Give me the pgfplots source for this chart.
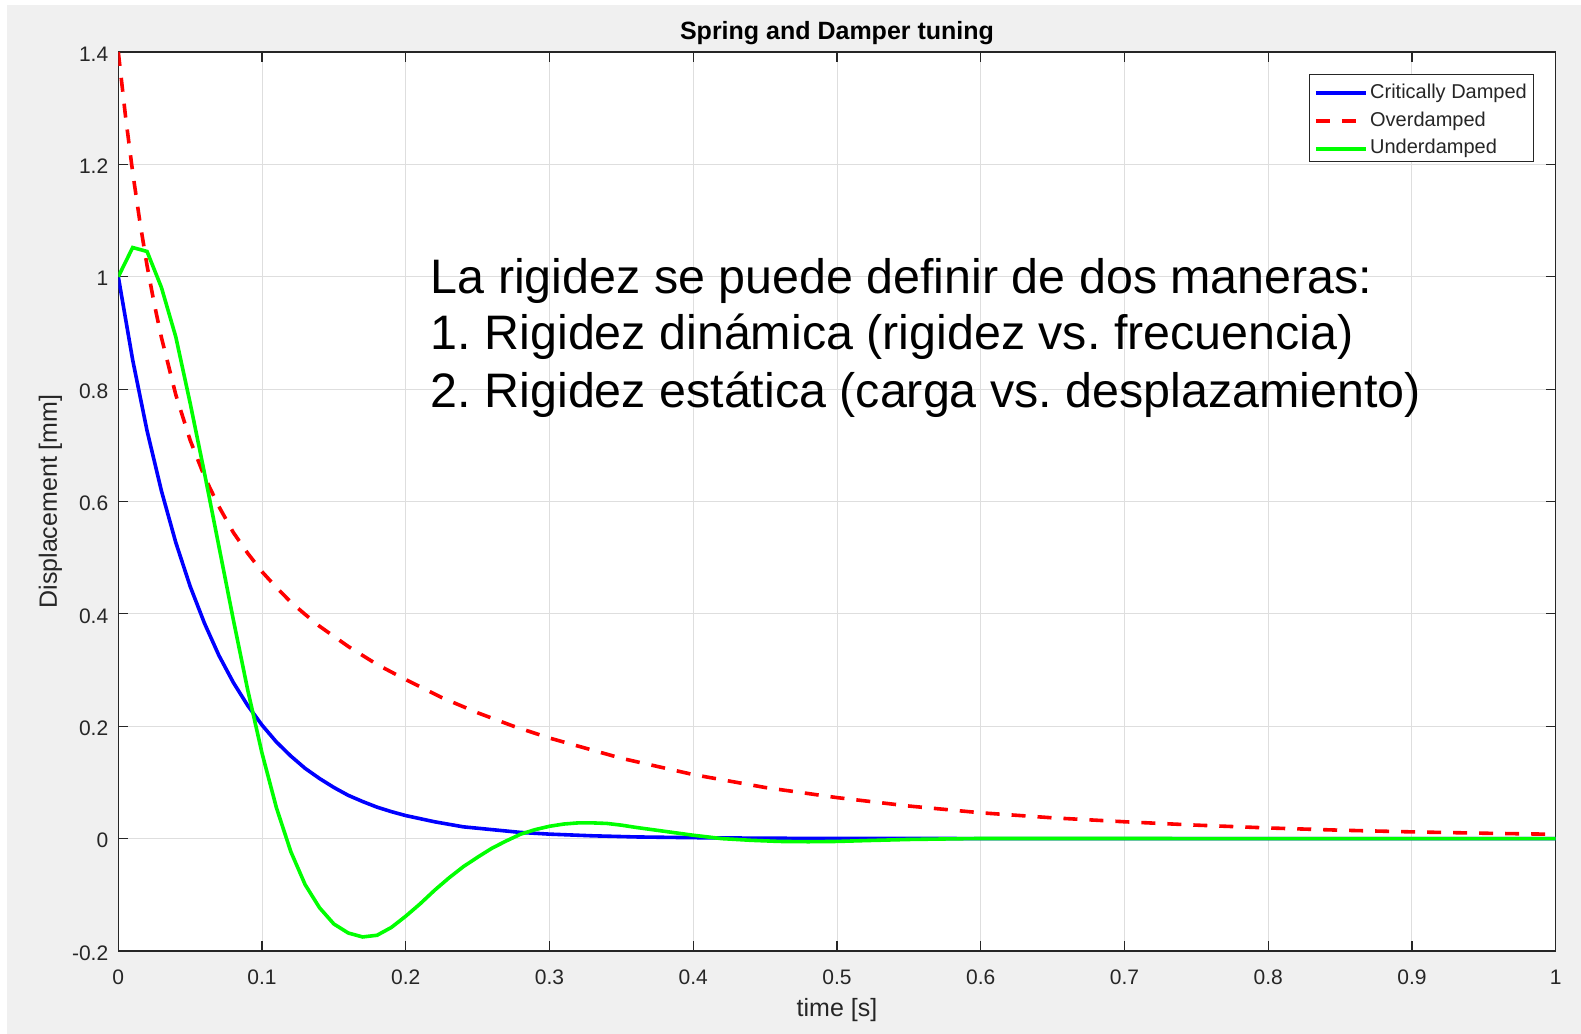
\documentclass[border=0pt]{standalone}
\usepackage{fontspec}
\setmainfont{Liberation Sans}
\usepackage{pgfplots}
\pgfplotsset{compat=1.18}
\definecolor{figgray}{RGB}{240,240,240}
\definecolor{axgray}{RGB}{38,38,38}
\definecolor{gridgray}{RGB}{222,222,222}
\definecolor{mblue}{RGB}{0,0,255}
\definecolor{mred}{RGB}{255,0,0}
\definecolor{mgreen}{RGB}{0,255,0}
\frenchspacing

\begin{document}
\begin{tikzpicture}
% figure background (MATLAB style)
\fill[white] (-59.15pt,-41.5pt) rectangle (731.35pt,475.5pt);
\fill[figgray] (-55.65pt,-41.5pt) rectangle (731.35pt,473pt);
\begin{axis}[
    at={(0pt,0pt)}, anchor=south west,
    scale only axis,
    width=718.7pt, height=449.5pt,
    xmin=0, xmax=1, ymin=-0.2, ymax=1.4,
    xtick={0,0.1,0.2,0.3,0.4,0.5,0.6,0.7,0.8,0.9,1},
    ytick={-0.2,0,0.2,0.4,0.6,0.8,1,1.2,1.4},
    grid=major,
    major grid style={gridgray, line width=0.5pt},
    axis line style={axgray, line width=0.6pt},
    tick style={axgray, line width=0.6pt},
    tick align=inside, major tick length=5pt,
    xtick pos=both, ytick pos=both,
    xticklabel pos=lower, yticklabel pos=left,
    axis background/.style={fill=white},
    /pgf/number format/assume math mode=true,
    tick label style={font=\fontsize{10.5}{12}\selectfont, text=axgray},
    xticklabel style={yshift=-6pt},
    yticklabel style={xshift=-1.5pt, yshift=-1pt},
    title={Spring and Damper tuning},
    title style={font=\bfseries\fontsize{12.5}{14}\selectfont, at={(0.5,1)}, anchor=base, yshift=0pt},
    xlabel={time [s]},
    ylabel={Displacement [mm]},
    label style={font=\fontsize{12.5}{14}\selectfont, text=axgray},
    xlabel style={at={([yshift=-29.5pt]axis description cs:0.5,0)}, anchor=center},
    ylabel style={at={([xshift=-34pt]axis description cs:0,0.5)}, anchor=center},
    legend style={
        at={(0.9849,0.9755)}, anchor=north east,
        draw=axgray, line width=0.5pt, fill=white,
        font=\fontsize{10}{12}\selectfont,
        inner xsep=2.05pt, inner ysep=2.85pt, row sep=3.9pt,
        nodes={inner xsep=1.25pt, inner ysep=0pt, text height=9pt, text depth=1pt, text=axgray},
    },
    legend cell align=left,
    legend image code/.code={\draw[#1] (0pt,-1.5pt) -- (25pt,-1.5pt);},
]

\addplot[mblue, line width=1.8pt] coordinates {
    (0,1) (0.01,0.852) (0.02,0.726) (0.03,0.619) (0.04,0.527) (0.05,0.449)
    (0.06,0.383) (0.07,0.326) (0.08,0.278) (0.09,0.237) (0.1,0.202)
    (0.11,0.172) (0.12,0.147) (0.13,0.125) (0.14,0.107) (0.15,0.091)
    (0.16,0.077) (0.17,0.066) (0.18,0.056) (0.19,0.048) (0.2,0.041)
    (0.22,0.030) (0.24,0.021) (0.26,0.016) (0.28,0.011) (0.3,0.008)
    (0.33,0.005) (0.36,0.003) (0.4,0.0017) (0.45,0.0007) (0.5,0.0003)
    (0.6,0.0001) (0.7,0) (0.8,0) (0.9,0) (1,0)
};

\addplot[mred, line width=1.8pt, dash pattern=on 7pt off 6pt] coordinates {
    (0,1.4) (0.005,1.286) (0.01,1.186) (0.015,1.098) (0.02,1.020) (0.025,0.952)
    (0.03,0.892) (0.04,0.790) (0.05,0.709) (0.06,0.644) (0.07,0.591)
    (0.08,0.545) (0.09,0.508) (0.1,0.475) (0.11,0.447) (0.12,0.421)
    (0.13,0.399) (0.14,0.378) (0.16,0.342) (0.18,0.310) (0.2,0.283)
    (0.225,0.251) (0.25,0.224) (0.275,0.200) (0.3,0.179) (0.35,0.143)
    (0.4,0.114) (0.45,0.091) (0.5,0.073) (0.55,0.058) (0.6,0.046)
    (0.65,0.037) (0.7,0.030) (0.75,0.024) (0.8,0.019) (0.85,0.015)
    (0.9,0.012) (0.95,0.0096) (1,0.0077)
};

\addplot[mgreen, line width=1.8pt] coordinates {
    (0,1) (0.01,1.052) (0.02,1.045) (0.03,0.981) (0.04,0.893) (0.05,0.775)
    (0.06,0.650) (0.07,0.520) (0.08,0.390) (0.09,0.265) (0.1,0.152)
    (0.11,0.055) (0.12,-0.023) (0.13,-0.082) (0.14,-0.123) (0.15,-0.152)
    (0.16,-0.168) (0.17,-0.175) (0.18,-0.172) (0.19,-0.158) (0.2,-0.138)
    (0.21,-0.116) (0.22,-0.092) (0.23,-0.070) (0.24,-0.050) (0.25,-0.033)
    (0.26,-0.017) (0.27,-0.004) (0.28,0.008) (0.29,0.016) (0.3,0.022)
    (0.31,0.026) (0.32,0.028) (0.33,0.028) (0.34,0.027) (0.35,0.024)
    (0.36,0.020) (0.38,0.013) (0.4,0.006) (0.42,0.000) (0.44,-0.003)
    (0.46,-0.005) (0.48,-0.0055) (0.5,-0.005) (0.52,-0.0035) (0.55,-0.0015)
    (0.6,0.0003) (0.7,0.0002) (0.8,0) (0.9,0) (1,0)
};

\legend{Critically Damped, Overdamped, Underdamped}
\end{axis}

% overlaid note
\begin{scope}[every node/.style={anchor=base west, inner sep=0pt, font=\fontsize{24.2}{28.5}\selectfont}]
\node at (156.1pt,328.5pt) {La rigidez se puede definir de dos maneras:};
\node at (156.1pt,300.5pt) {1. Rigidez dinámica (rigidez vs. frecuencia)};
\node at (156.1pt,271.5pt) {2. Rigidez estática (carga vs. desplazamiento)};
\end{scope}

\pgfresetboundingbox
\path[use as bounding box] (-59.15pt,-41.5pt) rectangle (731.35pt,475.5pt);
\end{tikzpicture}
\end{document}
